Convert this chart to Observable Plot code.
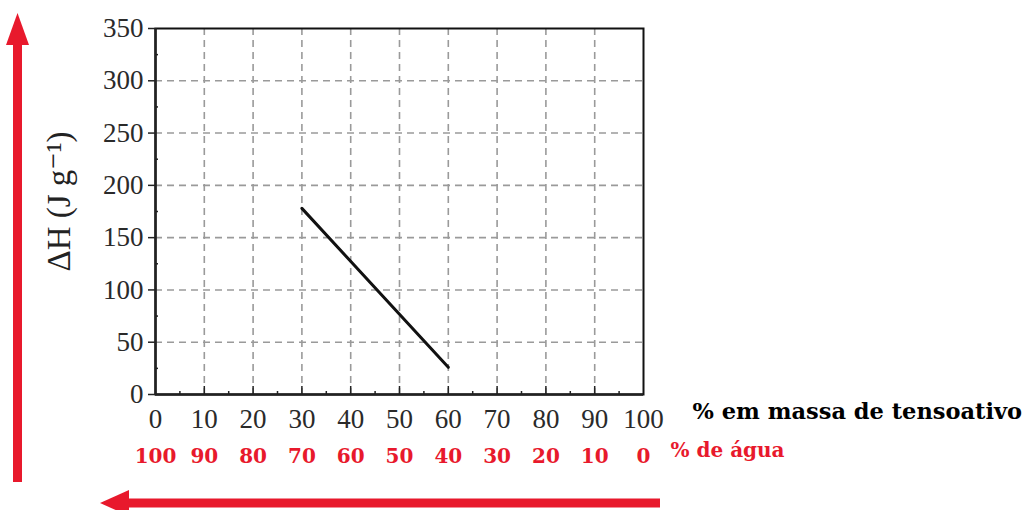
<!DOCTYPE html>
<html><head><meta charset="utf-8">
<script src="https://cdn.jsdelivr.net/npm/d3@7"></script>
<script src="https://cdn.jsdelivr.net/npm/@observablehq/plot@0.6"></script>
<style>
html,body{margin:0;padding:0;background:#fff;}
#chart svg{display:block;}
</style></head><body><div id="chart"></div>
<script>
// data
const surfactantPct = [30, 60];
const deltaH = [178, 26];
const xTicks = [0, 10, 20, 30, 40, 50, 60, 70, 80, 90, 100];
const waterTickLabels = ["100", "90", "80", "70", "60", "50", "40", "30", "20", "10", "0"];
const yTicks = [0, 50, 100, 150, 200, 250, 300, 350];
const xMinor = [5, 15, 25, 35, 45, 55, 65, 75, 85, 95];
const yMinor = [25, 75, 125, 175, 225, 275, 325];
const xGrid = [10, 20, 30, 40, 50, 60, 70, 80, 90];
const yGrid = [50, 100, 150, 200, 250, 300];
const yLabel = "ΔH (J g⁻¹)";
const xLabel = "% em massa de tensoativo";
const waterLabel = "% de água";

const W = 1033, H = 510;
const mL = 155, mR = 390, mT = 28, mB = 116;
const frameW = W - mL - mR, frameH = H - mT - mB;
const RED = "#e8192c";
const serif = "'Liberation Serif', 'DejaVu Serif', serif";
const bold = "'DejaVu Serif', serif";

const lineData = surfactantPct.map((x, i) => ({x, y: deltaH[i]}));

const plot = Plot.plot({
  width: W, height: H,
  marginLeft: mL, marginRight: mR, marginTop: mT, marginBottom: mB,
  style: {fontFamily: serif, fontSize: "27px", background: "#fff", overflow: "visible"},
  x: {domain: [0, 100]},
  y: {domain: [0, 350]},
  marks: [
    Plot.ruleX(xGrid, {stroke: "#9a9a9a", strokeWidth: 1.6, strokeDasharray: "7,5"}),
    Plot.ruleY(yGrid, {stroke: "#9a9a9a", strokeWidth: 1.6, strokeDasharray: "7,5"}),
    Plot.tickX(xGrid, {stroke: "#222", strokeWidth: 1.5, insetTop: frameH - 8}),
    Plot.tickX(xMinor, {stroke: "#222", strokeWidth: 1.5, insetTop: frameH - 3}),
    Plot.tickY(yMinor, {stroke: "#222", strokeWidth: 1.5, insetRight: frameW - 3}),
    Plot.frame({stroke: "#111", strokeWidth: 2}),
    Plot.ruleX([0], {stroke: "#222", strokeWidth: 2.5}),
    Plot.ruleY([0], {stroke: "#222", strokeWidth: 2.5}),
    Plot.axisY(yTicks, {anchor: "left", tickSize: 7, tickPadding: 5, label: null,
      fill: "#2a2a2a", stroke: "#222", strokeWidth: 1.5, fontSize: 27, fontFamily: serif}),
    Plot.axisX(xTicks, {anchor: "bottom", tickSize: 0, tickPadding: 14, label: null,
      fill: "#2a2a2a", fontSize: 27, fontFamily: serif}),
    Plot.axisX(xTicks, {anchor: "bottom", tickSize: 0, tickPadding: 54, label: null,
      tickFormat: (d) => waterTickLabels[xTicks.indexOf(d)],
      fill: RED, fontSize: 20, fontWeight: "bold", fontFamily: bold}),
    Plot.line(lineData, {x: "x", y: "y", stroke: "#111", strokeWidth: 3}),
    Plot.text([yLabel], {frameAnchor: "left", textAnchor: "middle", rotate: -90, dx: -96, dy: -10,
      fontSize: 33, fontFamily: serif, fill: "#222"}),
    Plot.text([xLabel], {frameAnchor: "bottom-right", textAnchor: "start", dx: 49, dy: 24,
      fontSize: 22.5, fontWeight: "bold", fontFamily: bold, fill: "#000"}),
    Plot.text([waterLabel], {frameAnchor: "bottom-right", textAnchor: "start", dx: 27, dy: 62,
      fontSize: 20, fontWeight: "bold", fontFamily: bold, fill: RED})
  ]
});

// decorative red arrows
const svg = d3.select(plot);
const g = svg.append("g").attr("fill", RED);
// vertical arrow (upwards)
g.append("rect").attr("x", 13).attr("y", 40).attr("width", 9).attr("height", 442);
g.append("path").attr("d", "M17.5,13 L29,45 L6,45 Z");
// horizontal arrow (leftwards)
g.append("rect").attr("x", 125).attr("y", 498.5).attr("width", 535).attr("height", 9);
g.append("path").attr("d", "M100,503 L129,490 L129,516 Z");

document.getElementById("chart").appendChild(plot);
</script></body></html>
